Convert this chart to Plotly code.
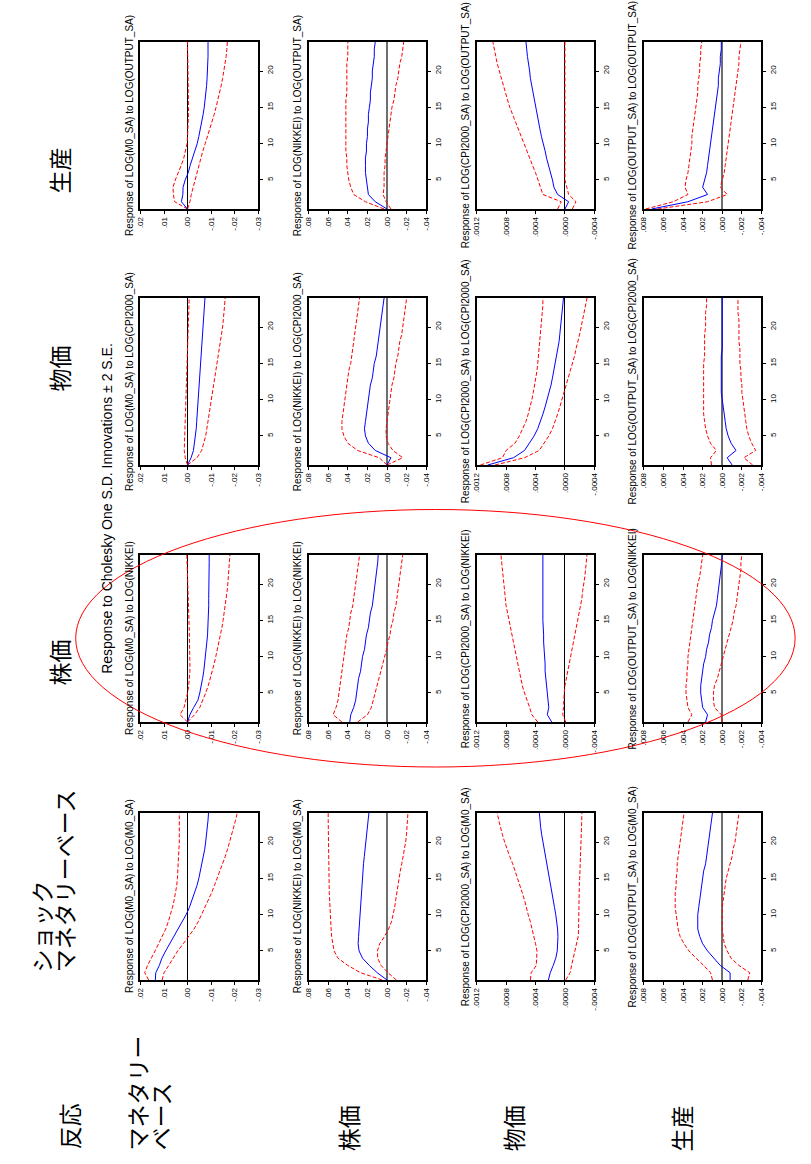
import plotly.graph_objects as go

FIG_W, FIG_H = 811, 1164
HORIZON = list(range(1, 25))
VAR_NAMES = ["M0_SA", "NIKKEI", "CPI2000_SA", "OUTPUT_SA"]

# value-axis tick definitions per response variable
M0_TICKS = [0.02, 0.01, 0.0, -0.01, -0.02, -0.03]
M0_TICKTEXT = [".02", ".01", ".00", "-.01", "-.02", "-.03"]
NK_TICKS = [0.08, 0.06, 0.04, 0.02, 0.0, -0.02, -0.04]
NK_TICKTEXT = [".08", ".06", ".04", ".02", ".00", "-.02", "-.04"]
CPI_TICKS = [0.0012, 0.0008, 0.0004, 0.0, -0.0004]
CPI_TICKTEXT = [".0012", ".0008", ".0004", ".0000", "-.0004"]
OUT_TICKS = [0.008, 0.006, 0.004, 0.002, 0.0, -0.002, -0.004]
OUT_TICKTEXT = [".008", ".006", ".004", ".002", ".000", "-.002", "-.004"]
HORIZON_TICKS = [5, 10, 15, 20]

# ---------------- responses (mid = response, up/lo = +/- 2 S.E.) ----------------
# Response of M0
m0_m0_mid = [.0137, .0135, .0120, .0109, .0093, .0076, .0057, .0039, .0022, .0006, -.0008, -.0019,
             -.0030, -.0040, -.0048, -.0055, -.0062, -.0067, -.0073, -.0077, -.0081, -.0084, -.0087, -.0089]
m0_m0_up = [.0165, .0182, .0170, .0153, .0138, .0123, .0108, .0093, .0082, .0072, .0064, .0057,
            .0051, .0046, .0043, .0041, .0039, .0037, .0036, .0035, .0035, .0035, .0035, .0035]
m0_m0_lo = [.0108, .0100, .0080, .0062, .0042, .0018, -.0006, -.0027, -.0045, -.0060, -.0075, -.0089,
            -.0102, -.0114, -.0126, -.0138, -.0150, -.0160, -.0170, -.0179, -.0188, -.0196, -.0204, -.0211]

m0_nk_mid = [0, -.0010, -.0026, -.0044, -.0052, -.0059, -.0064, -.0069, -.0073, -.0076, -.0079, -.0082,
             -.0085, -.0087, -.0088, -.0089, -.0090, -.0090, -.0091, -.0091, -.0091, -.0092, -.0092, -.0092]
m0_nk_up = [0, .0032, .0015, .0006, 0, -.0005, -.0008, -.0010, -.0010, -.0010, -.0010, -.0009,
            -.0008, -.0007, -.0006, -.0005, -.0004, -.0003, -.0002, -.0001, 0, .0001, .0002, .0003]
m0_nk_lo = [0, -.0030, -.0052, -.0066, -.0077, -.0088, -.0097, -.0105, -.0113, -.0120, -.0127, -.0134,
            -.0140, -.0146, -.0151, -.0156, -.0160, -.0164, -.0168, -.0171, -.0174, -.0177, -.0179, -.0180]

m0_cpi_mid = [0, -.0015, -.0025, -.0030, -.0034, -.0037, -.0039, -.0041, -.0043, -.0045, -.0047, -.0049,
              -.0051, -.0053, -.0055, -.0057, -.0059, -.0062, -.0064, -.0066, -.0068, -.0070, -.0072, -.0074]
m0_cpi_up = [0, .0010, .0014, .0013, .0012, .0011, .0010, .0009, .0008, .0007, .0006, .0005,
             .0004, .0003, .0002, .0001, 0, -.0001, -.0002, -.0003, -.0004, -.0005, -.0006, -.0007]
m0_cpi_lo = [0, -.0040, -.0060, -.0070, -.0077, -.0082, -.0087, -.0092, -.0097, -.0102, -.0107, -.0112,
             -.0117, -.0122, -.0127, -.0132, -.0137, -.0141, -.0145, -.0149, -.0152, -.0155, -.0158, -.0160]

m0_out_mid = [0, .0026, .0020, .0019, .0010, -.0003, -.0011, -.0022, -.0032, -.0041, -.0048, -.0055,
              -.0061, -.0066, -.0071, -.0075, -.0078, -.0081, -.0083, -.0085, -.0086, -.0087, -.0087, -.0087]
m0_out_up = [0, .0055, .0060, .0062, .0052, .0038, .0027, .0016, .0008, .0002, 0, -.0002,
             -.0003, -.0004, -.0004, -.0004, -.0003, -.0003, -.0002, -.0002, -.0001, -.0001, 0, 0]
m0_out_lo = [0, -.0010, -.0016, -.0024, -.0031, -.0039, -.0047, -.0055, -.0065, -.0075, -.0085, -.0095,
             -.0104, -.0113, -.0121, -.0129, -.0136, -.0143, -.0149, -.0155, -.0160, -.0164, -.0167, -.0169]

# Response of NIKKEI
nk_m0_mid = [0, .010, .018, .025, .0285, .0295, .029, .0285, .028, .0275, .027, .0268,
             .0265, .026, .0255, .0248, .024, .0232, .0224, .0216, .0208, .020, .0192, .0185]
nk_m0_up = [.005, .027, .040, .050, .054, .0555, .0565, .057, .0575, .058, .0583, .0586,
            .0589, .059, .0592, .0594, .0595, .0596, .0597, .0598, .0599, .060, .060, .060]
nk_m0_lo = [-.0095, -.001, .006, .0095, .0098, .0075, .0025, -.0015, -.0045, -.0065, -.0078, -.0088,
            -.0098, -.0108, -.0120, -.0135, -.0150, -.0165, -.0178, -.0190, -.0198, -.0205, -.0210, -.0213]

nk_nk_mid = [.038, .037, .034, .032, .031, .030, .029, .027, .026, .025, .023, .022,
             .021, .019, .018, .017, .015, .014, .013, .012, .011, .010, .0095, .009]
nk_nk_up = [.046, .055, .052, .050, .049, .048, .047, .046, .045, .044, .043, .042,
            .041, .039, .038, .037, .035, .034, .033, .032, .031, .030, .029, .028]
nk_nk_lo = [.030, .020, .016, .014, .012, .010, .008, .006, .004, .002, .0005, -.001,
            -.003, -.004, -.006, -.007, -.009, -.010, -.011, -.012, -.013, -.014, -.015, -.016]

nk_cpi_mid = [0, -.004, .012, .019, .022, .023, .022, .021, .020, .019, .018, .017,
              .015, .014, .013, .011, .010, .009, .008, .007, .006, .005, .004, .003]
nk_cpi_up = [0, .008, .030, .040, .044, .046, .046, .045, .044, .043, .042, .041,
             .040, .039, .037, .036, .035, .034, .033, .032, .031, .030, .029, .028]
nk_cpi_lo = [0, -.016, -.006, -.001, .001, .001, 0, -.001, -.002, -.003, -.004, -.005,
             -.007, -.008, -.009, -.011, -.012, -.013, -.015, -.016, -.017, -.018, -.019, -.020]

nk_out_mid = [0, .012, .019, .020, .021, .022, .022, .022, .021, .021, .020, .020,
              .019, .019, .018, .017, .017, .016, .015, .015, .014, .013, .013, .012]
nk_out_up = [.003, .022, .034, .037, .039, .040, .041, .041, .042, .042, .042, .042,
             .042, .042, .042, .042, .041, .041, .041, .041, .041, .040, .040, .040]
nk_out_lo = [-.004, .001, .004, .003, .003, .003, .002, .002, .001, 0, -.001, -.002,
             -.003, -.004, -.005, -.007, -.008, -.009, -.011, -.012, -.013, -.015, -.016, -.017]

# Response of CPI
cpi_m0_mid = [.000225, .00020, .00016, .000125, .000105, .000095, .000095, .00010, .00011, .000125, .000142, .00016,
              .000178, .000195, .000212, .00023, .000248, .000266, .000284, .00030, .000316, .00033, .00034, .000348]
cpi_m0_up = [.00047, .00046, .00039, .00038, .00038, .00040, .00042, .00044, .00047, .00050, .00052, .00055,
             .00058, .00061, .00064, .00068, .00071, .00075, .00079, .00082, .00085, .00088, .00090, .00092]
cpi_m0_lo = [-.00001, -.00007, -.00009, -.00011, -.00014, -.00016, -.00018, -.000185, -.000185, -.000185, -.000185, -.00019,
             -.00019, -.000195, -.00020, -.000205, -.00021, -.000215, -.00022, -.00022, -.00022, -.000225, -.000228, -.00023]

cpi_nk_mid = [.00018, .00024, .00022, .00023, .00024, .00025, .00026, .00027, .00027, .00028, .00028, .00029,
              .00029, .00030, .00030, .00030, .00030, .00030, .00030, .00030, .00030, .00030, .00030, .00030]
cpi_nk_up = [.00037, .00045, .00048, .00052, .00055, .00058, .00060, .00063, .00065, .00067, .00069, .00071,
             .00073, .00075, .00077, .00078, .00080, .00081, .00082, .00083, .00084, .00085, .00086, .00087]
cpi_nk_lo = [-.00001, .00003, .00002, .00002, .00001, 0, -.00002, -.00004, -.00006, -.00008, -.00010, -.00012,
             -.00014, -.00016, -.00018, -.00020, -.00021, -.00023, -.00024, -.00026, -.00027, -.00028, -.00029, -.00030]

cpi_cpi_mid = [.00105, .00070, .00055, .00048, .00042, .00037, .00033, .00030, .00027, .00024, .00021, .00019,
               .00017, .00015, .00013, .00011, .00010, .00008, .00007, .00006, .00005, .00004, .00003, .00002]
cpi_cpi_up = [.00115, .00085, .00080, .00068, .00062, .00057, .00053, .00050, .00047, .00045, .00043, .00041,
              .00039, .00038, .00037, .00036, .00035, .00034, .00033, .00032, .00031, .00030, .00030, .00030]
cpi_cpi_lo = [.00095, .00055, .00035, .00028, .00022, .00017, .00013, .00010, .00007, .00004, .00001, -.00002,
              -.00005, -.00008, -.00010, -.00013, -.00015, -.00018, -.00020, -.00022, -.00024, -.00026, -.00028, -.00030]

cpi_out_mid = [0, -.00005, .00010, .00015, .00017, .00020, .00022, .00025, .00027, .00030, .00032, .00034,
               .00036, .00038, .00040, .00042, .00044, .00045, .00047, .00048, .00050, .00051, .00052, .00053]
cpi_out_up = [.00010, .00005, .00030, .00033, .00037, .00040, .00044, .00048, .00052, .00056, .00060, .00064,
              .00068, .00071, .00075, .00078, .00081, .00084, .00087, .00090, .00092, .00094, .00096, .00098]
cpi_out_lo = [-.00010, -.00015, -.00005, -.00002, 0, 0, 0, .00001, .00001, .00001, .00001, .00001,
              .00001, .00001, .00001, .00001, .00001, 0, 0, 0, 0, 0, 0, 0]

# Response of OUTPUT
out_m0_mid = [-.0008, -.0008, .0002, .0009, .0015, .0020, .0023, .0025, .0025, .0025, .0024, .0023,
              .0022, .0021, .0020, .0019, .0017, .0016, .0015, .0014, .0013, .0012, .0011, .0010]
out_m0_up = [.0010, .0012, .0019, .0027, .0034, .0039, .0043, .0045, .0046, .0047, .0048, .0048,
             .0048, .0047, .0047, .0046, .0046, .0045, .0044, .0043, .0042, .0041, .0040, .0039]
out_m0_lo = [-.0026, -.0028, -.0017, -.0009, -.0005, -.0002, -.0001, 0, 0, 0, 0, -.0001,
             -.0002, -.0003, -.0004, -.0006, -.0008, -.0010, -.0011, -.0013, -.0014, -.0015, -.0016, -.0017]

out_nk_mid = [.0017, .0015, .0020, .0021, .0022, .0022, .0021, .0020, .0019, .0017, .0016, .0014,
              .0013, .0011, .0010, .0008, .0006, .0005, .0004, .0003, .0002, .0001, .00005, 0]
out_nk_up = [.0035, .0031, .0035, .0036, .0037, .0037, .0036, .0036, .0035, .0035, .0034, .0033,
             .0032, .0031, .0030, .0029, .0028, .0027, .0026, .0025, .0023, .0022, .0021, .0020]
out_nk_lo = [0, .0001, .0008, .0009, .0009, .0008, .0005, .0003, .0001, -.0001, -.0003, -.0005,
             -.0007, -.0009, -.0011, -.0012, -.0014, -.0015, -.0016, -.0017, -.0018, -.0019, -.0019, -.0020]

out_cpi_mid = [-.0010, -.0005, -.0014, -.0009, -.0006, -.0004, -.0003, -.0002, -.0001, 0, .0001, .0001,
               .0001, .0001, .0001, .0001, 0, 0, 0, 0, 0, 0, 0, 0]
out_cpi_up = [.0011, .0012, .0006, .0012, .0015, .0017, .0018, .0019, .0019, .0019, .0019, .0019,
              .0019, .0019, .0019, .0018, .0018, .0018, .0018, .0017, .0017, .0017, .0016, .0016]
out_cpi_lo = [-.0031, -.0022, -.0034, -.0030, -.0027, -.0025, -.0024, -.0023, -.0022, -.0021, -.0020, -.0020,
              -.0019, -.0019, -.0018, -.0018, -.0018, -.0017, -.0017, -.0017, -.0017, -.0016, -.0016, -.0016]

out_out_mid = [.0072, .0035, .0015, .0020, .0018, .0016, .0015, .0014, .0013, .0012, .0011, .0010,
               .0009, .0008, .0007, .0006, .0005, .0004, .0004, .0003, .0002, .0002, .0001, .0001]
out_out_up = [.0078, .0050, .0035, .0038, .0037, .0035, .0034, .0033, .0032, .0031, .0031, .0030,
              .0029, .0028, .0027, .0026, .0025, .0025, .0024, .0023, .0023, .0022, .0022, .0021]
out_out_lo = [.0066, .0015, -.0005, .0002, 0, -.0002, -.0003, -.0004, -.0005, -.0006, -.0007, -.0008,
              -.0009, -.0010, -.0011, -.0012, -.0013, -.0014, -.0015, -.0016, -.0017, -.0017, -.0018, -.0019]

# ---------------- assembly ----------------
SERIES = {
    (0, 0): (m0_m0_mid, m0_m0_up, m0_m0_lo), (0, 1): (m0_nk_mid, m0_nk_up, m0_nk_lo),
    (0, 2): (m0_cpi_mid, m0_cpi_up, m0_cpi_lo), (0, 3): (m0_out_mid, m0_out_up, m0_out_lo),
    (1, 0): (nk_m0_mid, nk_m0_up, nk_m0_lo), (1, 1): (nk_nk_mid, nk_nk_up, nk_nk_lo),
    (1, 2): (nk_cpi_mid, nk_cpi_up, nk_cpi_lo), (1, 3): (nk_out_mid, nk_out_up, nk_out_lo),
    (2, 0): (cpi_m0_mid, cpi_m0_up, cpi_m0_lo), (2, 1): (cpi_nk_mid, cpi_nk_up, cpi_nk_lo),
    (2, 2): (cpi_cpi_mid, cpi_cpi_up, cpi_cpi_lo), (2, 3): (cpi_out_mid, cpi_out_up, cpi_out_lo),
    (3, 0): (out_m0_mid, out_m0_up, out_m0_lo), (3, 1): (out_nk_mid, out_nk_up, out_nk_lo),
    (3, 2): (out_cpi_mid, out_cpi_up, out_cpi_lo), (3, 3): (out_out_mid, out_out_up, out_out_lo),
}
TICKS = [(M0_TICKS, M0_TICKTEXT), (NK_TICKS, NK_TICKTEXT), (CPI_TICKS, CPI_TICKTEXT), (OUT_TICKS, OUT_TICKTEXT)]
ZERO_STYLE = [("#000000", 1), ("#6e6e6e", 2), ("#000000", 1), ("#6e6e6e", 2)]

# page geometry (pixels) -- page is rotated 90 deg CCW
BOX_LEFT = [138, 308, 478, 647]   # per response variable
BOX_TOP = [813, 555, 298, 42]     # per shock variable
BOX_W, BOX_H = 119, 167

def px(x):
    return x / FIG_W

def py(y):
    return 1 - y / FIG_H

FONT = "Arial, Liberation Sans, sans-serif"
JFONT = "Noto Sans CJK JP, sans-serif"

fig = go.Figure()
layout = {}
annotations = []
for r in range(4):
    for s in range(4):
        k = r * 4 + s + 1
        sfx = "" if k == 1 else str(k)
        mid, up, lo = SERIES[(r, s)]
        for vals, color, dash in ((up, "#ff0000", "4px,2px"), (lo, "#ff0000", "4px,2px"), (mid, "#0000ff", "solid")):
            fig.add_trace(go.Scatter(x=vals, y=HORIZON, mode="lines", xaxis="x" + sfx, yaxis="y" + sfx,
                                     line=dict(color=color, width=1, dash=dash), showlegend=False,
                                     hoverinfo="skip"))
        tv, tt = TICKS[r]
        zc, zw = ZERO_STYLE[r]
        left, top = BOX_LEFT[r], BOX_TOP[s]
        layout["xaxis" + sfx] = dict(
            domain=[px(left), px(left + BOX_W)], anchor="y" + sfx,
            range=[tv[0], tv[-1]], tickvals=tv, ticktext=tt, tickangle=-90,
            ticks="outside", ticklen=3, tickwidth=1, tickcolor="#000",
            tickfont=dict(family=FONT, size=8, color="#000"),
            showline=True, mirror=True, linecolor="#000", linewidth=1.6,
            showgrid=False, zeroline=True, zerolinecolor=zc, zerolinewidth=zw, fixedrange=True)
        layout["yaxis" + sfx] = dict(
            domain=[py(top + BOX_H), py(top)], anchor="x" + sfx, side="right",
            range=[1, 24], tickvals=HORIZON_TICKS, ticktext=[str(t) for t in HORIZON_TICKS],
            tickangle=-90, ticks="outside", ticklen=3, tickwidth=1, tickcolor="#000",
            tickfont=dict(family=FONT, size=8, color="#000"),
            showline=True, mirror=True, linecolor="#000", linewidth=1.6,
            showgrid=False, zeroline=False, fixedrange=True)
        annotations.append(dict(
            text=f"Response of LOG({VAR_NAMES[r]}) to LOG({VAR_NAMES[s]})",
            x=px(left - 11), y=py(top + BOX_H / 2), xref="paper", yref="paper",
            xanchor="center", yanchor="middle", textangle=-90, showarrow=False,
            font=dict(family=FONT, size=10, color="#000")))

# headline
annotations.append(dict(text="Response to Cholesky One S.D. Innovations \u00b1 2 S.E.",
                        x=px(104), y=py(508), xref="paper", yref="paper", xanchor="center", yanchor="middle",
                        textangle=-90, showarrow=False, font=dict(family=FONT, size=14, color="#000")))

# Japanese labels: (text, x_px, y_center_px)
JP_LABELS = [
    ("ショック", 37, 927), ("マネタリーベース", 61, 881),
    ("株価", 56, 662), ("物価", 56, 368), ("生産", 56, 170),
    ("反応", 66, 1126), ("マネタリー", 134, 1093), ("ベース", 158, 1116),
    ("株価", 348, 1128), ("物価", 515, 1128), ("生産", 685, 1128),
]
for txt, x, y in JP_LABELS:
    annotations.append(dict(text=txt, x=px(x), y=py(y), xref="paper", yref="paper",
                            xanchor="center", yanchor="middle", textangle=-90, showarrow=False,
                            font=dict(family=JFONT, size=23, color="#000")))

layout["annotations"] = annotations
layout["shapes"] = [dict(type="circle", xref="paper", yref="paper",
                         x0=px(72.5), x1=px(800), y0=py(767), y1=py(509.5),
                         line=dict(color="#ff0000", width=1), fillcolor="rgba(0,0,0,0)")]
layout.update(width=FIG_W, height=FIG_H, margin=dict(l=0, r=0, t=0, b=0),
              paper_bgcolor="#ffffff", plot_bgcolor="#ffffff", showlegend=False)
fig.update_layout(**layout)
fig.write_html("out.html")
